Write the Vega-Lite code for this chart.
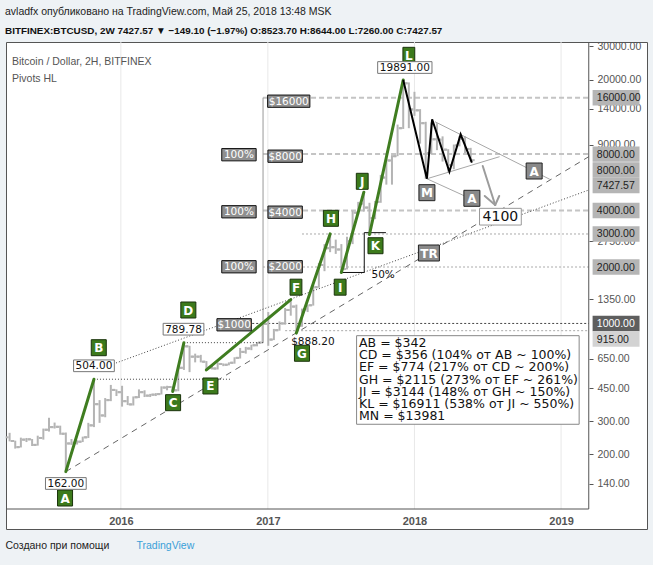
{
  "$schema": "https://vega.github.io/schema/vega-lite/v6.json",
  "width": 641,
  "height": 487,
  "autosize": "none",
  "padding": {"left": 6, "top": 42, "right": 6, "bottom": 36},
  "background": "#eef2f5",
  "view": {"fill": "#ffffff", "stroke": "#555555", "strokeWidth": 1},
  "title": {
    "text": "avladfx опубликовано на TradingView.com, Май 25, 2018 13:48 MSK",
    "subtitle": "BITFINEX:BTCUSD, 2W  7427.57 ▼ −149.10 (−1.97%)  O:8523.70 H:8644.00 L:7260.00 C:7427.57",
    "anchor": "start", "frame": "group", "offset": 6, "dx": -1,
    "font": "Liberation Sans", "fontSize": 10.5, "fontWeight": "normal", "color": "#222222",
    "subtitleFont": "Liberation Sans", "subtitleFontSize": 9.9, "subtitleFontWeight": "bold", "subtitleColor": "#111111", "subtitlePadding": 8
  },
  "datasets": {
    "grid": [{"d": "2016-01-01"}, {"d": "2017-01-01"}, {"d": "2018-01-01"}, {"d": "2019-01-01"}],
    "bars": [
      {"d": "2015-03-30", "o": 247, "h": 261, "l": 235, "c": 236},
      {"d": "2015-04-13", "o": 236, "h": 237, "l": 215, "c": 219},
      {"d": "2015-04-27", "o": 219, "h": 246, "l": 218, "c": 240},
      {"d": "2015-05-11", "o": 240, "h": 245, "l": 233, "c": 241},
      {"d": "2015-05-25", "o": 241, "h": 242, "l": 222, "c": 225},
      {"d": "2015-06-08", "o": 225, "h": 252, "l": 223, "c": 245},
      {"d": "2015-06-22", "o": 245, "h": 275, "l": 240, "c": 271},
      {"d": "2015-07-06", "o": 271, "h": 314, "l": 265, "c": 280},
      {"d": "2015-07-20", "o": 280, "h": 296, "l": 275, "c": 281},
      {"d": "2015-08-03", "o": 281, "h": 285, "l": 255, "c": 258},
      {"d": "2015-08-17", "o": 258, "h": 262, "l": 162, "c": 229},
      {"d": "2015-08-31", "o": 229, "h": 242, "l": 225, "c": 231},
      {"d": "2015-09-14", "o": 231, "h": 238, "l": 226, "c": 234},
      {"d": "2015-09-28", "o": 234, "h": 249, "l": 233, "c": 247},
      {"d": "2015-10-12", "o": 247, "h": 295, "l": 245, "c": 286},
      {"d": "2015-10-26", "o": 286, "h": 504, "l": 280, "c": 371},
      {"d": "2015-11-09", "o": 371, "h": 390, "l": 295, "c": 323},
      {"d": "2015-11-23", "o": 323, "h": 400, "l": 316, "c": 390},
      {"d": "2015-12-07", "o": 390, "h": 470, "l": 385, "c": 442},
      {"d": "2015-12-21", "o": 442, "h": 445, "l": 410, "c": 430},
      {"d": "2016-01-04", "o": 430, "h": 465, "l": 360, "c": 385},
      {"d": "2016-01-18", "o": 385, "h": 410, "l": 367, "c": 370},
      {"d": "2016-02-01", "o": 370, "h": 408, "l": 365, "c": 404},
      {"d": "2016-02-15", "o": 404, "h": 445, "l": 400, "c": 430},
      {"d": "2016-02-29", "o": 430, "h": 440, "l": 405, "c": 412},
      {"d": "2016-03-14", "o": 412, "h": 421, "l": 405, "c": 417},
      {"d": "2016-03-28", "o": 417, "h": 425, "l": 410, "c": 420},
      {"d": "2016-04-11", "o": 420, "h": 462, "l": 418, "c": 455},
      {"d": "2016-04-25", "o": 455, "h": 465, "l": 440, "c": 458},
      {"d": "2016-05-09", "o": 458, "h": 460, "l": 433.78, "c": 440},
      {"d": "2016-05-23", "o": 440, "h": 590, "l": 435, "c": 580},
      {"d": "2016-06-06", "o": 580, "h": 789.78, "l": 565, "c": 755},
      {"d": "2016-06-20", "o": 755, "h": 760, "l": 550, "c": 665},
      {"d": "2016-07-04", "o": 665, "h": 690, "l": 620, "c": 665},
      {"d": "2016-07-18", "o": 665, "h": 680, "l": 620, "c": 625},
      {"d": "2016-08-01", "o": 625, "h": 630, "l": 565, "c": 580},
      {"d": "2016-08-15", "o": 580, "h": 592, "l": 568, "c": 575},
      {"d": "2016-08-29", "o": 575, "h": 620, "l": 568, "c": 608},
      {"d": "2016-09-12", "o": 608, "h": 612, "l": 592, "c": 602},
      {"d": "2016-09-26", "o": 602, "h": 620, "l": 598, "c": 617},
      {"d": "2016-10-10", "o": 617, "h": 660, "l": 610, "c": 655},
      {"d": "2016-10-24", "o": 655, "h": 740, "l": 650, "c": 705},
      {"d": "2016-11-07", "o": 705, "h": 750, "l": 690, "c": 735},
      {"d": "2016-11-21", "o": 735, "h": 770, "l": 720, "c": 765},
      {"d": "2016-12-05", "o": 765, "h": 795, "l": 755, "c": 790},
      {"d": "2016-12-19", "o": 790, "h": 1000, "l": 785, "c": 995},
      {"d": "2017-01-02", "o": 995, "h": 1150, "l": 760, "c": 820},
      {"d": "2017-01-16", "o": 820, "h": 935, "l": 815, "c": 920},
      {"d": "2017-01-30", "o": 920, "h": 1025, "l": 915, "c": 1000},
      {"d": "2017-02-13", "o": 1000, "h": 1210, "l": 985, "c": 1180},
      {"d": "2017-02-27", "o": 1180, "h": 1339, "l": 1100, "c": 1230},
      {"d": "2017-03-13", "o": 1230, "h": 1260, "l": 888.2, "c": 970},
      {"d": "2017-03-27", "o": 970, "h": 1200, "l": 960, "c": 1190},
      {"d": "2017-04-10", "o": 1190, "h": 1260, "l": 1150, "c": 1250},
      {"d": "2017-04-24", "o": 1250, "h": 1600, "l": 1245, "c": 1560},
      {"d": "2017-05-08", "o": 1560, "h": 2100, "l": 1550, "c": 2050},
      {"d": "2017-05-22", "o": 2050, "h": 2650, "l": 1900, "c": 2520},
      {"d": "2017-06-05", "o": 2520, "h": 3003.2, "l": 2400, "c": 2550},
      {"d": "2017-06-19", "o": 2550, "h": 2800, "l": 2350, "c": 2480},
      {"d": "2017-07-03", "o": 2480, "h": 2650, "l": 1870, "c": 1950},
      {"d": "2017-07-17", "o": 1950, "h": 2900, "l": 1940, "c": 2750},
      {"d": "2017-07-31", "o": 2750, "h": 4000, "l": 2650, "c": 3900},
      {"d": "2017-08-14", "o": 3900, "h": 4450, "l": 3800, "c": 4350},
      {"d": "2017-08-28", "o": 4350, "h": 5014, "l": 3950, "c": 4150},
      {"d": "2017-09-11", "o": 4150, "h": 4400, "l": 2980, "c": 3650},
      {"d": "2017-09-25", "o": 3650, "h": 4500, "l": 3600, "c": 4450},
      {"d": "2017-10-09", "o": 4450, "h": 6200, "l": 4400, "c": 6000},
      {"d": "2017-10-23", "o": 6000, "h": 7600, "l": 5500, "c": 7400},
      {"d": "2017-11-06", "o": 7400, "h": 7900, "l": 5500, "c": 7800},
      {"d": "2017-11-20", "o": 7800, "h": 11500, "l": 7800, "c": 11000},
      {"d": "2017-12-04", "o": 11000, "h": 19891, "l": 10900, "c": 19100},
      {"d": "2017-12-18", "o": 19100, "h": 19300, "l": 11000, "c": 13850},
      {"d": "2018-01-01", "o": 13850, "h": 17200, "l": 12800, "c": 13700},
      {"d": "2018-01-15", "o": 13700, "h": 13900, "l": 9100, "c": 11700},
      {"d": "2018-01-29", "o": 11700, "h": 11900, "l": 5910, "c": 8100},
      {"d": "2018-02-12", "o": 8100, "h": 11800, "l": 8000, "c": 9600},
      {"d": "2018-02-26", "o": 9600, "h": 11700, "l": 8400, "c": 9550},
      {"d": "2018-03-12", "o": 9550, "h": 9950, "l": 7300, "c": 8450},
      {"d": "2018-03-26", "o": 8450, "h": 8500, "l": 6450, "c": 7000},
      {"d": "2018-04-09", "o": 7000, "h": 9000, "l": 6650, "c": 8900},
      {"d": "2018-04-23", "o": 8900, "h": 9990, "l": 8800, "c": 9650},
      {"d": "2018-05-07", "o": 9650, "h": 9950, "l": 8100, "c": 8523.7},
      {"d": "2018-05-21", "o": 8523.7, "h": 8644, "l": 7260, "c": 7427.57}
    ],
    "seg": [
      {"kind": "major", "d": "2016-12-20", "d2": "2019-03-11", "v": 16000, "v2": 16000},
      {"kind": "major", "d": "2016-12-20", "d2": "2019-03-11", "v": 8000, "v2": 8000},
      {"kind": "major", "d": "2016-12-20", "d2": "2019-03-11", "v": 4000, "v2": 4000},
      {"kind": "minor", "d": "2017-03-27", "d2": "2019-03-11", "v": 3000, "v2": 3000},
      {"kind": "minor", "d": "2016-12-20", "d2": "2019-03-11", "v": 2000, "v2": 2000},
      {"kind": "minor", "d": "2017-02-13", "d2": "2019-03-11", "v": 915, "v2": 915},
      {"kind": "dark", "d": "2016-11-23", "d2": "2019-03-11", "v": 1000, "v2": 1000},
      {"kind": "dot", "d": "2015-10-26", "d2": "2016-09-29", "v": 504, "v2": 504},
      {"kind": "dot", "d": "2016-06-06", "d2": "2016-12-20", "v": 789.78, "v2": 789.78},
      {"kind": "dot", "d": "2015-12-13", "d2": "2019-03-11", "v": 607.7, "v2": 5149},
      {"kind": "tool", "d": "2016-12-20", "d2": "2016-12-20", "v": 789.78, "v2": 16000},
      {"kind": "fib", "d": "2017-08-29", "d2": "2017-08-29", "v": 1870, "v2": 3050},
      {"kind": "fib", "d": "2017-07-03", "d2": "2017-08-29", "v": 1870, "v2": 1870},
      {"kind": "fib", "d": "2017-08-29", "d2": "2017-10-22", "v": 3050, "v2": 3050},
      {"kind": "dash", "d": "2015-08-17", "d2": "2019-03-11", "v": 162, "v2": 7752},
      {"kind": "tri", "d": "2018-02-21", "d2": "2018-12-04", "v": 11912, "v2": 5873},
      {"kind": "tri", "d": "2018-02-01", "d2": "2018-08-01", "v": 5910, "v2": 7752},
      {"kind": "tri", "d": "2018-02-01", "d2": "2018-05-20", "v": 5910, "v2": 4638},
      {"kind": "arrow", "d": "2018-06-20", "d2": "2018-07-21", "v": 6914, "v2": 4281},
      {"kind": "arrow", "d": "2018-06-25", "d2": "2018-07-21", "v": 4783, "v2": 4281},
      {"kind": "arrow", "d": "2018-07-31", "d2": "2018-07-21", "v": 4783, "v2": 4281},
      {"kind": "green", "d": "2015-08-17", "d2": "2015-10-26", "v": 162, "v2": 504},
      {"kind": "green", "d": "2016-05-09", "d2": "2016-06-06", "v": 433.78, "v2": 789.78},
      {"kind": "green", "d": "2016-08-01", "d2": "2017-02-27", "v": 565, "v2": 1339},
      {"kind": "green", "d": "2017-03-13", "d2": "2017-06-05", "v": 888.2, "v2": 3003.2},
      {"kind": "green", "d": "2017-07-03", "d2": "2017-08-28", "v": 1870, "v2": 5014},
      {"kind": "green", "d": "2017-09-11", "d2": "2017-12-04", "v": 2980, "v2": 19891},
      {"kind": "axis", "d": "2019-03-11", "d2": "2019-03-11", "v": 31704, "v2": 102.4},
      {"kind": "axis", "d": "2015-03-21", "d2": "2019-03-11", "v": 102.4, "v2": 102.4}
    ],
    "zig": [
      {"d": "2017-12-04", "v": 19891},
      {"d": "2018-02-01", "v": 5910},
      {"d": "2018-02-14", "v": 12270},
      {"d": "2018-03-29", "v": 6440},
      {"d": "2018-04-26", "v": 10200},
      {"d": "2018-05-24", "v": 7200}
    ],
    "letters": [
      {"t": "A", "d": "2015-08-15", "v": 117.2},
      {"t": "B", "d": "2015-11-07", "v": 742.4},
      {"t": "C", "d": "2016-05-10", "v": 377.9},
      {"t": "D", "d": "2016-06-17", "v": 1179.5},
      {"t": "E", "d": "2016-08-11", "v": 463.9},
      {"t": "F", "d": "2017-03-12", "v": 1561},
      {"t": "G", "d": "2017-03-27", "v": 693.2},
      {"t": "H", "d": "2017-06-07", "v": 3637},
      {"t": "I", "d": "2017-06-30", "v": 1561},
      {"t": "J", "d": "2017-08-24", "v": 5730},
      {"t": "K", "d": "2017-09-26", "v": 2597},
      {"t": "L", "d": "2017-12-18", "v": 26920}
    ],
    "gboxes": [
      {"t": "M", "d": "2018-02-01", "v": 4982},
      {"t": "A", "d": "2018-10-26", "v": 6502},
      {"t": "A", "d": "2018-05-24", "v": 4650},
      {"t": "TR", "d": "2018-02-06", "v": 2375}
    ],
    "dboxes": [
      {"t": "$16000", "d": "2017-02-22", "v": 15325},
      {"t": "$8000", "d": "2017-02-13", "v": 7799},
      {"t": "100%", "d": "2016-10-21", "v": 7943},
      {"t": "$4000", "d": "2017-02-13", "v": 3921},
      {"t": "100%", "d": "2016-10-21", "v": 3941},
      {"t": "$2000", "d": "2017-02-13", "v": 2007},
      {"t": "100%", "d": "2016-10-21", "v": 2006},
      {"t": "$1000", "d": "2016-10-09", "v": 983.6}
    ],
    "vboxes": [
      {"t": "162.00", "d": "2015-08-17", "v": 140.1},
      {"t": "504.00", "d": "2015-10-26", "v": 594.4},
      {"t": "789.78", "d": "2016-06-05", "v": 931.9},
      {"t": "19891.00", "d": "2017-12-08", "v": 23174}
    ],
    "texts": [
      {"t": "$888.20", "d": "2017-04-23", "v": 796.2},
      {"t": "50%", "d": "2017-10-15", "v": 1813}
    ],
    "target": [{"t": "4100", "d": "2018-08-03", "v": 3710}],
    "badges": [
      {"t": "16000.00", "v": 16000, "tone": "mid", "d": "2019-05-18", "dt": "2019-03-31"},
      {"t": "8000.00", "v": 8000, "tone": "mid", "d": "2019-05-18", "dt": "2019-03-31"},
      {"t": "8000.00", "v": 6582, "tone": "mid", "d": "2019-05-18", "dt": "2019-03-31"},
      {"t": "7427.57", "v": 5441, "tone": "mid", "d": "2019-05-18", "dt": "2019-03-31"},
      {"t": "4000.00", "v": 4000, "tone": "mid", "d": "2019-05-18", "dt": "2019-03-31"},
      {"t": "3000.00", "v": 3000, "tone": "mid", "d": "2019-05-18", "dt": "2019-03-31"},
      {"t": "2000.00", "v": 2000, "tone": "mid", "d": "2019-05-18", "dt": "2019-03-31"},
      {"t": "1000.00", "v": 1000, "tone": "dark", "d": "2019-05-18", "dt": "2019-03-31"},
      {"t": "915.00", "v": 826, "tone": "light", "d": "2019-05-18", "dt": "2019-03-31"}
    ],
    "note": [
      {"dc": "2018-05-14", "vc": 499.4, "d": "2017-08-16", "v": 783.5,
       "lines": ["AB = $342", "CD = $356 (104% от AB ~ 100%)", "EF = $774 (217% от CD ~ 200%)", "GH = $2115 (273% от EF ~ 261%)", "JI = $3144 (148% от GH ~ 150%)", "KL = $16911 (538% от JI ~ 550%)", "MN = $13981"]}
    ],
    "caption": [
      {"d": "2015-04-05", "v": 24794, "lines": ["Bitcoin / Dollar, 2H, BITFINEX", "Pivots HL"]}
    ]
  },
  "layer": [
    {
      "data": {"name": "grid"},
      "mark": {"type": "rule", "color": "#e8e8e8", "strokeWidth": 1},
      "encoding": {
        "x": {"field": "d", "type": "temporal"},
        "y": {"datum": 31704, "type": "quantitative"},
        "y2": {"datum": 102.4}
      }
    },
    {
      "data": {"name": "caption"},
      "mark": {"type": "text", "align": "left", "baseline": "middle", "lineHeight": 17, "font": "Liberation Sans", "fontSize": 10.5, "color": "#555555"},
      "encoding": {
        "x": {"field": "d", "type": "temporal"},
        "y": {"field": "v", "type": "quantitative"},
        "text": {"field": "lines"}
      }
    },
    {
      "data": {"name": "seg"},
      "transform": [{"filter": "datum.kind === 'major'"}],
      "mark": {"type": "rule", "color": "#c4c4c4", "strokeWidth": 2, "strokeDash": [5, 3]},
      "encoding": {
        "x": {"field": "d", "type": "temporal"}, "x2": {"field": "d2"},
        "y": {"field": "v", "type": "quantitative"}, "y2": {"field": "v2"}
      }
    },
    {
      "data": {"name": "seg"},
      "transform": [{"filter": "datum.kind === 'minor'"}],
      "mark": {"type": "rule", "color": "#aaaaaa", "strokeWidth": 1, "strokeDash": [2, 2]},
      "encoding": {
        "x": {"field": "d", "type": "temporal"}, "x2": {"field": "d2"},
        "y": {"field": "v", "type": "quantitative"}, "y2": {"field": "v2"}
      }
    },
    {
      "data": {"name": "seg"},
      "transform": [{"filter": "datum.kind === 'dark'"}],
      "mark": {"type": "rule", "color": "#444444", "strokeWidth": 1, "strokeDash": [2, 2]},
      "encoding": {
        "x": {"field": "d", "type": "temporal"}, "x2": {"field": "d2"},
        "y": {"field": "v", "type": "quantitative"}, "y2": {"field": "v2"}
      }
    },
    {
      "data": {"name": "seg"},
      "transform": [{"filter": "datum.kind === 'tool'"}],
      "mark": {"type": "rule", "color": "#999999", "strokeWidth": 1},
      "encoding": {
        "x": {"field": "d", "type": "temporal"}, "x2": {"field": "d2"},
        "y": {"field": "v", "type": "quantitative"}, "y2": {"field": "v2"}
      }
    },
    {
      "data": {"name": "bars"},
      "mark": {"type": "rule", "color": "#b4b4b4", "strokeWidth": 2},
      "encoding": {
        "x": {
          "field": "d", "type": "temporal",
          "scale": {"domain": [{"year": 2015, "month": 3, "date": 21}, {"year": 2019, "month": 8, "date": 3}], "nice": false},
          "axis": {
            "orient": "bottom", "offset": -20,
            "values": [{"year": 2016, "month": 1, "date": 1}, {"year": 2017, "month": 1, "date": 1}, {"year": 2018, "month": 1, "date": 1}, {"year": 2019, "month": 1, "date": 1}],
            "format": "%Y", "grid": false, "domain": false, "ticks": false,
            "labelFont": "Liberation Sans", "labelFontSize": 11, "labelFontWeight": "bold", "labelColor": "#555555", "labelPadding": 6, "labelFlush": false, "labelOverlap": false,
            "title": "Создано при помощи", "titleX": -1, "titleY": 36, "titleAlign": "left", "titleAnchor": "start", "titleBaseline": "middle",
            "titleFont": "Liberation Sans", "titleFontSize": 10.5, "titleFontWeight": "normal", "titleColor": "#222222"
          }
        },
        "y": {
          "field": "l", "type": "quantitative",
          "scale": {"type": "log", "domain": [80.1, 31704], "nice": false, "zero": false},
          "axis": {
            "orient": "right", "offset": -58,
            "values": [140, 200, 300, 450, 650, 1350, 2750, 9000, 14000, 20000, 30000],
            "format": ".2f", "grid": false, "domain": false,
            "tickColor": "#555555", "tickSize": 4, "labelPadding": 4,
            "labelFont": "Liberation Sans", "labelFontSize": 10.5, "labelColor": "#555555", "labelOverlap": false, "labelFlush": false, "labelBound": false,
            "title": "TradingView", "titleX": -453, "titleY": 503, "titleAngle": 0, "titleAlign": "left", "titleBaseline": "middle",
            "titleFont": "Liberation Sans", "titleFontSize": 10.5, "titleFontWeight": "normal", "titleColor": "#3aa0d8"
          }
        },
        "y2": {"field": "h"}
      }
    },
    {
      "data": {"name": "bars"},
      "mark": {"type": "tick", "orient": "horizontal", "color": "#b4b4b4", "size": 3, "thickness": 2, "xOffset": -2.5, "opacity": 1},
      "encoding": {
        "x": {"field": "d", "type": "temporal"},
        "y": {"field": "o", "type": "quantitative"}
      }
    },
    {
      "data": {"name": "bars"},
      "mark": {"type": "tick", "orient": "horizontal", "color": "#b4b4b4", "size": 3, "thickness": 2, "xOffset": 2.5, "opacity": 1},
      "encoding": {
        "x": {"field": "d", "type": "temporal"},
        "y": {"field": "c", "type": "quantitative"}
      }
    },
    {
      "data": {"name": "seg"},
      "transform": [{"filter": "datum.kind === 'dot'"}],
      "mark": {"type": "rule", "color": "#444444", "strokeWidth": 1, "strokeDash": [1, 2]},
      "encoding": {
        "x": {"field": "d", "type": "temporal"}, "x2": {"field": "d2"},
        "y": {"field": "v", "type": "quantitative"}, "y2": {"field": "v2"}
      }
    },
    {
      "data": {"name": "seg"},
      "transform": [{"filter": "datum.kind === 'dash'"}],
      "mark": {"type": "rule", "color": "#666666", "strokeWidth": 1, "strokeDash": [6, 5]},
      "encoding": {
        "x": {"field": "d", "type": "temporal"}, "x2": {"field": "d2"},
        "y": {"field": "v", "type": "quantitative"}, "y2": {"field": "v2"}
      }
    },
    {
      "data": {"name": "seg"},
      "transform": [{"filter": "datum.kind === 'fib'"}],
      "mark": {"type": "rule", "color": "#111111", "strokeWidth": 1},
      "encoding": {
        "x": {"field": "d", "type": "temporal"}, "x2": {"field": "d2"},
        "y": {"field": "v", "type": "quantitative"}, "y2": {"field": "v2"}
      }
    },
    {
      "data": {"name": "seg"},
      "transform": [{"filter": "datum.kind === 'tri'"}],
      "mark": {"type": "rule", "color": "#a8a8a8", "strokeWidth": 1},
      "encoding": {
        "x": {"field": "d", "type": "temporal"}, "x2": {"field": "d2"},
        "y": {"field": "v", "type": "quantitative"}, "y2": {"field": "v2"}
      }
    },
    {
      "data": {"name": "seg"},
      "transform": [{"filter": "datum.kind === 'arrow'"}],
      "mark": {"type": "rule", "color": "#9c9c9c", "strokeWidth": 2, "strokeCap": "round"},
      "encoding": {
        "x": {"field": "d", "type": "temporal"}, "x2": {"field": "d2"},
        "y": {"field": "v", "type": "quantitative"}, "y2": {"field": "v2"}
      }
    },
    {
      "data": {"name": "seg"},
      "transform": [{"filter": "datum.kind === 'green'"}],
      "mark": {"type": "rule", "color": "#3f7d20", "strokeWidth": 3, "strokeCap": "round"},
      "encoding": {
        "x": {"field": "d", "type": "temporal"}, "x2": {"field": "d2"},
        "y": {"field": "v", "type": "quantitative"}, "y2": {"field": "v2"}
      }
    },
    {
      "data": {"name": "seg"},
      "transform": [{"filter": "datum.kind === 'axis'"}],
      "mark": {"type": "rule", "color": "#555555", "strokeWidth": 1},
      "encoding": {
        "x": {"field": "d", "type": "temporal"}, "x2": {"field": "d2"},
        "y": {"field": "v", "type": "quantitative"}, "y2": {"field": "v2"}
      }
    },
    {
      "data": {"name": "zig"},
      "mark": {"type": "line", "color": "#000000", "strokeWidth": 2, "strokeJoin": "miter"},
      "encoding": {
        "x": {"field": "d", "type": "temporal"},
        "y": {"field": "v", "type": "quantitative"}
      }
    },
    {
      "data": {"name": "letters"},
      "transform": [{"filter": "indexof('FIJL', datum.t) < 0"}],
      "mark": {"type": "point", "shape": "M-0.94,-1H0.94V1H-0.94Z", "size": 256, "filled": true, "fill": "#3c7a1c", "stroke": "#1a330c", "strokeWidth": 1, "opacity": 1},
      "encoding": {
        "x": {"field": "d", "type": "temporal"},
        "y": {"field": "v", "type": "quantitative"}
      }
    },
    {
      "data": {"name": "letters"},
      "transform": [{"filter": "indexof('FIJL', datum.t) >= 0"}],
      "mark": {"type": "point", "shape": "M-0.74,-1H0.74V1H-0.74Z", "size": 256, "filled": true, "fill": "#3c7a1c", "stroke": "#1a330c", "strokeWidth": 1, "opacity": 1},
      "encoding": {
        "x": {"field": "d", "type": "temporal"},
        "y": {"field": "v", "type": "quantitative"}
      }
    },
    {
      "data": {"name": "letters"},
      "mark": {"type": "text", "align": "center", "baseline": "middle", "font": "DejaVu Sans", "fontSize": 12, "fontWeight": "bold", "color": "#ffffff", "dy": 0.5},
      "encoding": {
        "x": {"field": "d", "type": "temporal"},
        "y": {"field": "v", "type": "quantitative"},
        "text": {"field": "t"}
      }
    },
    {
      "data": {"name": "gboxes"},
      "transform": [{"filter": "datum.t !== 'TR'"}],
      "mark": {"type": "point", "shape": "square", "size": 256, "filled": true, "fill": "#8a8a8a", "stroke": "#222222", "strokeWidth": 1, "opacity": 1},
      "encoding": {
        "x": {"field": "d", "type": "temporal"},
        "y": {"field": "v", "type": "quantitative"}
      }
    },
    {
      "data": {"name": "gboxes"},
      "transform": [{"filter": "datum.t === 'TR'"}],
      "mark": {"type": "point", "shape": "M-1.31,-1H1.31V1H-1.31Z", "size": 256, "filled": true, "fill": "#8a8a8a", "stroke": "#222222", "strokeWidth": 1, "opacity": 1},
      "encoding": {
        "x": {"field": "d", "type": "temporal"},
        "y": {"field": "v", "type": "quantitative"}
      }
    },
    {
      "data": {"name": "gboxes"},
      "mark": {"type": "text", "align": "center", "baseline": "middle", "font": "DejaVu Sans", "fontSize": 12, "fontWeight": "bold", "color": "#ffffff", "dy": 0.5},
      "encoding": {
        "x": {"field": "d", "type": "temporal"},
        "y": {"field": "v", "type": "quantitative"},
        "text": {"field": "t"}
      }
    },
    {
      "data": {"name": "dboxes"},
      "transform": [{"filter": "datum.t === '$16000'"}],
      "mark": {"type": "point", "shape": "M-3.44,-1H3.44V1H-3.44Z", "size": 151, "filled": true, "fill": "#8f8f8f", "stroke": "#111111", "strokeWidth": 1, "opacity": 1},
      "encoding": {
        "x": {"field": "d", "type": "temporal"},
        "y": {"field": "v", "type": "quantitative"}
      }
    },
    {
      "data": {"name": "dboxes"},
      "transform": [{"filter": "datum.t !== '$16000'"}],
      "mark": {"type": "point", "shape": "M-2.8,-1H2.8V1H-2.8Z", "size": 151, "filled": true, "fill": "#8f8f8f", "stroke": "#111111", "strokeWidth": 1, "opacity": 1},
      "encoding": {
        "x": {"field": "d", "type": "temporal"},
        "y": {"field": "v", "type": "quantitative"}
      }
    },
    {
      "data": {"name": "dboxes"},
      "mark": {"type": "text", "align": "center", "baseline": "middle", "font": "DejaVu Sans", "fontSize": 10.5, "color": "#ffffff", "dy": 0.5},
      "encoding": {
        "x": {"field": "d", "type": "temporal"},
        "y": {"field": "v", "type": "quantitative"},
        "text": {"field": "t"}
      }
    },
    {
      "data": {"name": "vboxes"},
      "transform": [{"filter": "datum.t !== '19891.00'"}],
      "mark": {"type": "point", "shape": "M-3.48,-1H3.48V1H-3.48Z", "size": 137, "filled": true, "fill": "#ffffff", "stroke": "#777777", "strokeWidth": 1, "opacity": 1},
      "encoding": {
        "x": {"field": "d", "type": "temporal"},
        "y": {"field": "v", "type": "quantitative"}
      }
    },
    {
      "data": {"name": "vboxes"},
      "transform": [{"filter": "datum.t === '19891.00'"}],
      "mark": {"type": "point", "shape": "M-4.64,-1H4.64V1H-4.64Z", "size": 137, "filled": true, "fill": "#ffffff", "stroke": "#777777", "strokeWidth": 1, "opacity": 1},
      "encoding": {
        "x": {"field": "d", "type": "temporal"},
        "y": {"field": "v", "type": "quantitative"}
      }
    },
    {
      "data": {"name": "vboxes"},
      "mark": {"type": "text", "align": "center", "baseline": "middle", "font": "DejaVu Sans", "fontSize": 10.5, "color": "#111111", "dy": 0.5},
      "encoding": {
        "x": {"field": "d", "type": "temporal"},
        "y": {"field": "v", "type": "quantitative"},
        "text": {"field": "t"}
      }
    },
    {
      "data": {"name": "texts"},
      "mark": {"type": "text", "align": "center", "baseline": "middle", "font": "DejaVu Sans", "fontSize": 10.5, "color": "#111111"},
      "encoding": {
        "x": {"field": "d", "type": "temporal"},
        "y": {"field": "v", "type": "quantitative"},
        "text": {"field": "t"}
      }
    },
    {
      "data": {"name": "target"},
      "mark": {"type": "point", "shape": "M-2.5,-1H2.5V1H-2.5Z", "size": 279, "filled": true, "fill": "#ffffff", "stroke": "#999999", "strokeWidth": 1, "opacity": 1},
      "encoding": {
        "x": {"field": "d", "type": "temporal"},
        "y": {"field": "v", "type": "quantitative"}
      }
    },
    {
      "data": {"name": "target"},
      "mark": {"type": "text", "align": "center", "baseline": "middle", "font": "DejaVu Sans", "fontSize": 14, "color": "#111111", "dy": 0.5},
      "encoding": {
        "x": {"field": "d", "type": "temporal"},
        "y": {"field": "v", "type": "quantitative"},
        "text": {"field": "t"}
      }
    },
    {
      "data": {"name": "note"},
      "mark": {"type": "point", "shape": "M-2.512,-1H2.512V1H-2.512Z", "size": 7850, "filled": true, "fill": "#ffffff", "stroke": "#888888", "strokeWidth": 1, "opacity": 1},
      "encoding": {
        "x": {"field": "dc", "type": "temporal"},
        "y": {"field": "vc", "type": "quantitative"}
      }
    },
    {
      "data": {"name": "note"},
      "mark": {"type": "text", "align": "left", "baseline": "middle", "lineHeight": 12.1, "font": "DejaVu Sans", "fontSize": 12.5, "color": "#111111"},
      "encoding": {
        "x": {"field": "d", "type": "temporal"},
        "y": {"field": "v", "type": "quantitative"},
        "text": {"field": "lines"}
      }
    },
    {
      "data": {"name": "badges"},
      "mark": {"type": "point", "shape": "M-3.03,-1H3.03V1H-3.03Z", "size": 240, "filled": true, "strokeWidth": 0, "opacity": 1},
      "encoding": {
        "x": {"field": "d", "type": "temporal"},
        "y": {"field": "v", "type": "quantitative"},
        "fill": {"field": "tone", "type": "nominal", "scale": {"domain": ["mid", "dark", "light"], "range": ["#b5b5b5", "#5e5e5e", "#d3d3d3"]}, "legend": null}
      }
    },
    {
      "data": {"name": "badges"},
      "mark": {"type": "text", "align": "left", "baseline": "middle", "font": "Liberation Sans", "fontSize": 10.5, "dy": 0.5},
      "encoding": {
        "x": {"field": "dt", "type": "temporal"},
        "y": {"field": "v", "type": "quantitative"},
        "text": {"field": "t"},
        "color": {"field": "tone", "type": "nominal", "scale": {"domain": ["mid", "dark", "light"], "range": ["#222222", "#ffffff", "#222222"]}, "legend": null}
      }
    }
  ]
}
